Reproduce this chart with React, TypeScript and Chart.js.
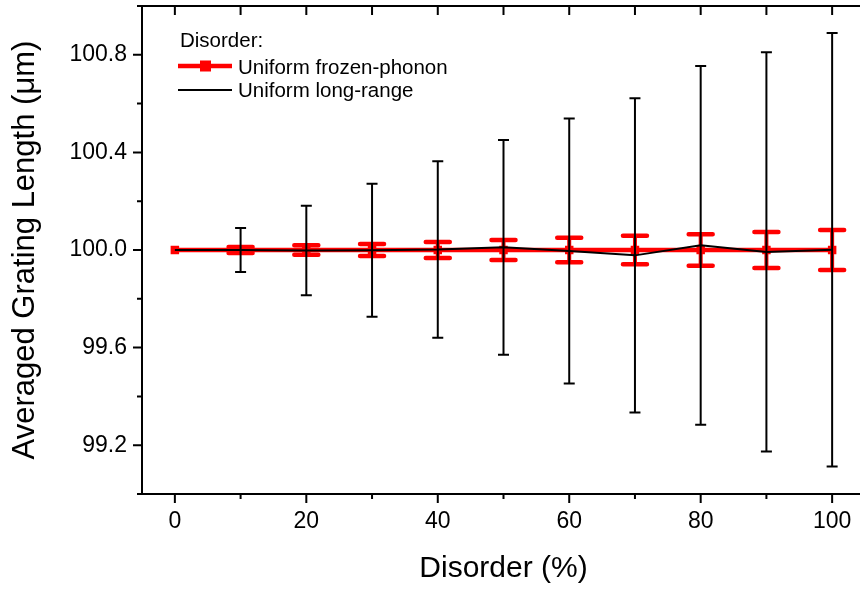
import React, { useEffect, useRef } from "react";
import { Chart, registerables } from "chart.js";

Chart.register(...registerables);

// ---- data ----
const disorder = [0, 10, 20, 30, 40, 50, 60, 70, 80, 90, 100];
const frozenMean = [100.0, 100.0, 100.0, 100.0, 100.0, 100.0, 100.0, 100.0, 100.0, 100.0, 100.0];
const frozenErr = [0, 0.012, 0.019, 0.025, 0.033, 0.041, 0.05, 0.058, 0.065, 0.074, 0.082];
const longMean = [100.0, 100.0, 99.998, 99.999, 100.002, 100.011, 99.996, 99.978, 100.019, 99.992, 100.001];
const longErr = [0, 0.09, 0.183, 0.273, 0.362, 0.44, 0.543, 0.644, 0.735, 0.818, 0.888];

const xTickValues = [0, 20, 40, 60, 80, 100];
const xMinorTickValues = [10, 30, 50, 70, 90];
const topTickValues = [0, 10, 20, 30, 40, 50, 60, 70, 80, 90, 100];
const yTickValues = [99.2, 99.6, 100.0, 100.4, 100.8];
const yMinorTickValues = [99.0, 99.4, 99.8, 100.2, 100.6, 101.0];

const legendTitle = "Disorder:";
const frozenLabel = "Uniform frozen-phonon";
const longLabel = "Uniform long-range";
const xTitle = "Disorder (%)";
const yTitle = "Averaged Grating Length (\u03BCm)";

const FONT = "'Liberation Sans', Arial, Helvetica, sans-serif";
const RED = "#ff0000";

const errorBarPlugin = {
  id: "errorBars",
  afterDatasetDraw(chart: any, args: any) {
    const ds: any = chart.data.datasets[args.index];
    const errs: number[] | undefined = ds.errorValues;
    if (!errs) return;
    const yScale = chart.scales.y;
    const ctx = chart.ctx;
    const st = ds.errorStyle;
    ctx.save();
    ctx.strokeStyle = st.color;
    args.meta.data.forEach((pt: any, i: number) => {
      const e = errs[i];
      if (!e) return;
      const m = ds.data[i].y;
      const x = pt.x;
      const yt = yScale.getPixelForValue(m + e);
      const yb = yScale.getPixelForValue(m - e);
      ctx.lineCap = "butt";
      ctx.lineWidth = st.lineWidth;
      ctx.beginPath();
      ctx.moveTo(x, yt);
      ctx.lineTo(x, yb);
      ctx.stroke();
      ctx.lineCap = st.capStyle;
      ctx.lineWidth = st.capWidth;
      ctx.beginPath();
      ctx.moveTo(x - st.capHalf, yt);
      ctx.lineTo(x + st.capHalf, yt);
      ctx.moveTo(x - st.capHalf, yb);
      ctx.lineTo(x + st.capHalf, yb);
      ctx.stroke();
    });
    ctx.restore();
  },
};

const framePlugin = {
  id: "frame",
  afterDraw(chart: any) {
    const { ctx, chartArea: ca, scales } = chart;
    const xs = scales.x;
    const ys = scales.y;
    ctx.save();
    ctx.strokeStyle = "#000";
    ctx.lineWidth = 2;
    ctx.lineCap = "square";
    ctx.beginPath();
    ctx.moveTo(ca.left, ca.top);
    ctx.lineTo(ca.left, ca.bottom);
    ctx.lineTo(ca.right, ca.bottom);
    ctx.lineTo(ca.right, ca.top);
    ctx.closePath();
    ctx.stroke();
    ctx.lineCap = "butt";
    ctx.beginPath();
    yTickValues.forEach((v) => {
      const y = ys.getPixelForValue(v);
      ctx.moveTo(ca.left, y);
      ctx.lineTo(ca.left - 9, y);
    });
    yMinorTickValues.forEach((v) => {
      const y = ys.getPixelForValue(v);
      ctx.moveTo(ca.left, y);
      ctx.lineTo(ca.left - 5, y);
    });
    xTickValues.forEach((v) => {
      const x = xs.getPixelForValue(v);
      ctx.moveTo(x, ca.bottom);
      ctx.lineTo(x, ca.bottom + 9);
    });
    xMinorTickValues.forEach((v) => {
      const x = xs.getPixelForValue(v);
      ctx.moveTo(x, ca.bottom);
      ctx.lineTo(x, ca.bottom + 5);
    });
    topTickValues.forEach((v) => {
      const x = xs.getPixelForValue(v);
      ctx.moveTo(x, ca.top);
      ctx.lineTo(x, ca.top + 9);
    });
    ctx.stroke();
    ctx.restore();
  },
};

const legendPlugin = {
  id: "customLegend",
  afterDraw(chart: any) {
    const ctx = chart.ctx;
    ctx.save();
    ctx.fillStyle = "#000";
    ctx.font = `20.5px ${FONT}`;
    ctx.textAlign = "left";
    ctx.textBaseline = "alphabetic";
    ctx.fillText(legendTitle, 180, 47);
    ctx.strokeStyle = RED;
    ctx.lineWidth = 4.5;
    ctx.beginPath();
    ctx.moveTo(178, 66);
    ctx.lineTo(232, 66);
    ctx.stroke();
    ctx.fillStyle = RED;
    ctx.fillRect(200, 60.5, 11, 11);
    ctx.fillStyle = "#000";
    ctx.fillText(frozenLabel, 238, 73.5);
    ctx.strokeStyle = "#000";
    ctx.lineWidth = 2;
    ctx.beginPath();
    ctx.moveTo(178, 90);
    ctx.lineTo(232, 90);
    ctx.stroke();
    ctx.fillText(longLabel, 238, 97);
    ctx.restore();
  },
};

const zeroPad = (s: any) => {
  s.paddingTop = 0;
  s.paddingBottom = 0;
  s.paddingLeft = 0;
  s.paddingRight = 0;
};

export default function App() {
  const ref = useRef<HTMLCanvasElement>(null);

  useEffect(() => {
    if (!ref.current) return;
    const chart = new Chart(ref.current, {
      type: "line",
      data: {
        datasets: [
          {
            label: frozenLabel,
            data: disorder.map((d, i) => ({ x: d, y: frozenMean[i] })),
            borderColor: RED,
            backgroundColor: RED,
            borderWidth: 4.5,
            pointStyle: "rect",
            pointRadius: 6,
            pointBorderWidth: 0,
            pointBackgroundColor: RED,
            tension: 0,
            order: 2,
            errorValues: frozenErr,
            errorStyle: { color: RED, lineWidth: 4, capWidth: 4.5, capHalf: 12, capStyle: "round" },
          } as any,
          {
            label: longLabel,
            data: disorder.map((d, i) => ({ x: d, y: longMean[i] })),
            borderColor: "#000",
            backgroundColor: "#000",
            borderWidth: 2,
            pointRadius: 0,
            tension: 0,
            order: 1,
            errorValues: longErr,
            errorStyle: { color: "#000", lineWidth: 2, capWidth: 2, capHalf: 5.5, capStyle: "butt" },
          } as any,
        ],
      },
      options: {
        animation: false,
        responsive: false,
        devicePixelRatio: 1,
        layout: { padding: { left: 0, top: 5, right: 15, bottom: 0 } },
        plugins: {
          legend: { display: false },
          tooltip: { enabled: false },
        },
        scales: {
          x: {
            type: "linear",
            min: -5,
            max: 105,
            afterBuildTicks: (s: any) => {
              s.ticks = xTickValues.map((v) => ({ value: v }));
            },
            afterFit: (s: any) => {
              s.height = 96;
              zeroPad(s);
            },
            grid: { display: false, drawTicks: false },
            border: { display: false },
            ticks: {
              padding: 14,
              color: "#000",
              font: { family: FONT, size: 23 },
              maxRotation: 0,
              autoSkip: false,
              callback: (v: any) => String(v),
            },
            title: {
              display: true,
              text: xTitle,
              color: "#000",
              font: { family: FONT, size: 30 },
              padding: { top: 0, bottom: 3.5 },
            },
          },
          y: {
            type: "linear",
            min: 99,
            max: 101,
            afterBuildTicks: (s: any) => {
              s.ticks = yTickValues.map((v) => ({ value: v }));
            },
            afterFit: (s: any) => {
              s.width = 142;
              zeroPad(s);
            },
            grid: { display: false, drawTicks: false },
            border: { display: false },
            ticks: {
              padding: 15,
              color: "#000",
              font: { family: FONT, size: 23 },
              autoSkip: false,
              callback: (v: any) => Number(v).toFixed(1),
            },
            title: {
              display: true,
              text: yTitle,
              color: "#000",
              font: { family: FONT, size: 31 },
              padding: { top: 7, bottom: 0 },
            },
          },
        },
      },
      plugins: [errorBarPlugin, framePlugin, legendPlugin],
    } as any);
    return () => chart.destroy();
  }, []);

  return (
    <div
      style={{
        position: "fixed",
        left: 0,
        top: 0,
        width: 860,
        height: 590,
        overflow: "hidden",
        background: "#fff",
      }}
    >
      <canvas ref={ref} width={880} height={590} style={{ display: "block", width: 880, height: 590 }} />
    </div>
  );
}
